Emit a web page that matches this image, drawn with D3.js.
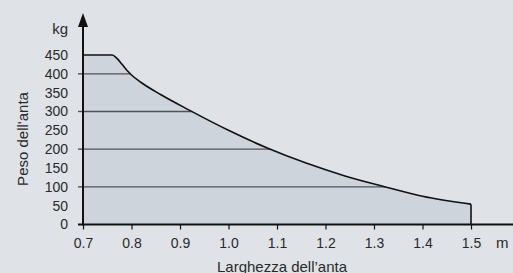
<!DOCTYPE html>
<html>
<head>
<meta charset="utf-8">
<script src="https://cdn.jsdelivr.net/npm/d3@7"></script>
<style>
  body { margin: 0; background: #dfe3e7; }
  text { font-family: "Liberation Sans", Arial, sans-serif; fill: #2a2a2a; }
</style>
</head>
<body>
<script>
var w = 513;
var h = 273;

// leaf width (m) vs max leaf weight (kg)
var widths = [0.7, 0.76, 0.77, 0.78, 0.79, 0.8, 0.82, 0.86, 0.92, 1.0, 1.08, 1.16, 1.24, 1.32, 1.4, 1.5];
var loads  = [450, 450, 441, 426, 410, 397, 377, 345, 303, 250, 203, 163, 129, 101, 75, 54];
var xTicks = [0.7, 0.8, 0.9, 1.0, 1.1, 1.2, 1.3, 1.4, 1.5];
var yTicks = [0, 50, 100, 150, 200, 250, 300, 350, 400, 450];
var gridVals = [100, 200, 300, 400];

var data = widths.map(function(d, i) { return {x: d, y: loads[i]}; });

var x = d3.scaleLinear().domain([0.7, 1.5]).range([83, 471]);
var y = d3.scaleLinear().domain([0, 450]).range([224.5, 55]);

var svg = d3.select("body")
            .append("svg")
                .attr("width", w)
                .attr("height", h);

var area = d3.area()
    .x(function(d) { return x(d.x); })
    .y0(y(0))
    .y1(function(d) { return y(d.y); })
    .curve(d3.curveMonotoneX);

var line = d3.line()
    .x(function(d) { return x(d.x); })
    .y(function(d) { return y(d.y); })
    .curve(d3.curveMonotoneX);

svg.append("clipPath")
    .attr("id", "areaclip")
    .append("path")
        .attr("d", area(data));

svg.append("path")
    .attr("d", area(data))
    .attr("fill", "#ced4db");

// grid lines, only inside the area
svg.append("g")
    .attr("clip-path", "url(#areaclip)")
    .selectAll("line")
    .data(gridVals)
    .enter()
    .append("line")
        .attr("x1", x(0.7))
        .attr("x2", x(1.5))
        .attr("y1", function(d) { return y(d); })
        .attr("y2", function(d) { return y(d); })
        .attr("stroke", "#505356")
        .attr("stroke-width", 1.4);

// little ticks left of the axis
svg.selectAll(".ytick")
    .data(gridVals)
    .enter()
    .append("line")
        .attr("class", "ytick")
        .attr("x1", 78)
        .attr("x2", x(0.7))
        .attr("y1", function(d) { return y(d); })
        .attr("y2", function(d) { return y(d); })
        .attr("stroke", "#505356")
        .attr("stroke-width", 1.4);

// curve
svg.append("path")
    .attr("d", line(data))
    .attr("fill", "none")
    .attr("stroke", "#111")
    .attr("stroke-width", 1.6);

var last = data[data.length - 1];
svg.append("line")
    .attr("x1", x(last.x)).attr("x2", x(last.x))
    .attr("y1", y(last.y)).attr("y2", y(0))
    .attr("stroke", "#111")
    .attr("stroke-width", 1.6);

// x axis
var xAxis = d3.axisBottom(x)
    .tickValues(xTicks)
    .tickSize(5)
    .tickPadding(9)
    .tickFormat(d3.format(".1f"));

var gx = svg.append("g")
    .attr("transform", "translate(0," + y(0) + ")")
    .call(xAxis);
gx.select(".domain").remove();
gx.selectAll("line").attr("stroke", "#111").attr("stroke-width", 1.2);
gx.selectAll("text").attr("font-size", 14).attr("fill", "#2a2a2a")
    .attr("font-family", "Liberation Sans, Arial, sans-serif");

svg.append("line")
    .attr("x1", 78).attr("x2", w)
    .attr("y1", y(0)).attr("y2", y(0))
    .attr("stroke", "#111")
    .attr("stroke-width", 2);

// y axis labels
var yAxis = d3.axisLeft(y)
    .tickValues(yTicks)
    .tickSize(0)
    .tickPadding(15);

var gy = svg.append("g")
    .attr("transform", "translate(" + x(0.7) + ",0)")
    .call(yAxis);
gy.select(".domain").remove();
gy.selectAll("text").attr("font-size", 14).attr("fill", "#2a2a2a")
    .attr("font-family", "Liberation Sans, Arial, sans-serif");

svg.append("line")
    .attr("x1", x(0.7)).attr("x2", x(0.7))
    .attr("y1", y(0) + 1).attr("y2", 24)
    .attr("stroke", "#111")
    .attr("stroke-width", 2);

svg.append("path")
    .attr("d", "M" + x(0.7) + ",13 L" + (x(0.7) - 5) + ",27 L" + (x(0.7) + 5) + ",27 Z")
    .attr("fill", "#111");

// unit labels and titles
svg.append("text")
    .attr("x", 68)
    .attr("y", 34)
    .attr("text-anchor", "end")
    .attr("font-size", 15)
    .text("kg");

svg.append("text")
    .attr("x", 496)
    .attr("y", 248)
    .attr("font-size", 15)
    .text("m");

svg.append("text")
    .attr("x", 282)
    .attr("y", 272)
    .attr("text-anchor", "middle")
    .attr("font-size", 15)
    .text("Larghezza dell\u2019anta");

svg.append("text")
    .attr("transform", "translate(28,139) rotate(-90)")
    .attr("text-anchor", "middle")
    .attr("font-size", 15)
    .text("Peso dell'anta");
</script>
</body>
</html>
